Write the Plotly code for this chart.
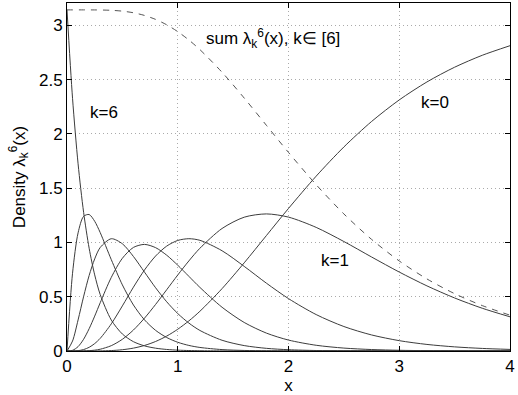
import plotly.graph_objects as go

# x sample positions
x = [0, 0.05, 0.1, 0.15, 0.2, 0.25, 0.3, 0.4, 0.5, 0.6, 0.7, 0.8, 0.9, 1.0,
     1.1, 1.2, 1.4, 1.6, 1.8, 2.0, 2.25, 2.5, 2.75, 3.0, 3.25, 3.5, 3.75, 4.0]

k0 = [0, 0, 0, 0.00002, 0.00011, 0.00037, 0.00095, 0.00403, 0.01166, 0.0265,
      0.05113, 0.0876, 0.1372, 0.20043, 0.27696, 0.36584, 0.57453, 0.8119,
      1.06252, 1.31291, 1.61038, 1.87917, 2.11352, 2.31247, 2.47801, 2.61367,
      2.72356, 2.81178]
k1 = [0, 0, 0.00013, 0.00085, 0.00302, 0.00777, 0.01633, 0.04921, 0.10782,
      0.19343, 0.30264, 0.42887, 0.56401, 0.69986, 0.82914, 0.94609, 1.1283,
      1.23232, 1.26249, 1.23296, 1.13837, 1.00827, 0.86604, 0.72698, 0.59975,
      0.4883, 0.39357, 0.31477]
k2 = [0, 0.00024, 0.00316, 0.01314, 0.03411, 0.06843, 0.1167, 0.25013, 0.41552,
      0.5882, 0.74633, 0.87486, 0.96603, 1.01825, 1.03427, 1.01944, 0.92326,
      0.77935, 0.62503, 0.48246, 0.3353, 0.22541, 0.14786, 0.09523, 0.06048,
      0.03801, 0.0237, 0.01468]
k3 = [0, 0.00627, 0.04011, 0.10828, 0.20538, 0.32122, 0.44477, 0.67812, 0.85402,
      0.95396, 0.98161, 0.95182, 0.88247, 0.79013, 0.68808, 0.58586, 0.40294,
      0.26287, 0.16504, 0.10069, 0.05267, 0.02688, 0.01346, 0.00665, 0.00325,
      0.00158, 0.00076, 0.00037]
k4 = [0, 0.09177, 0.28606, 0.50179, 0.69574, 0.84823, 0.95344, 1.03409, 0.98736,
      0.87026, 0.72622, 0.58248, 0.45345, 0.34489, 0.25749, 0.18938, 0.09891,
      0.04988, 0.02451, 0.01182, 0.00465, 0.0018, 0.00069, 0.00026, 0.0001,
      0.00004, 0.00001, 0]
k5 = [0, 0.71597, 1.08798, 1.24025, 1.25698, 1.19459, 1.0901, 0.84101, 0.6088,
      0.42343, 0.28654, 0.19012, 0.12426, 0.08028, 0.05139, 0.03265, 0.01295,
      0.00505, 0.00194, 0.00074, 0.00022, 0.00006, 0.00002, 0, 0, 0, 0, 0]
k6 = [3.14159, 2.3273, 1.72414, 1.27728, 0.94623, 0.70098, 0.5193, 0.285,
      0.15641, 0.08584, 0.04711, 0.02585, 0.01419, 0.00779, 0.00427, 0.00235,
      0.00071, 0.00021, 0.00006, 0.00002, 0, 0, 0, 0, 0, 0, 0, 0]
sum_k = [3.14159, 3.14159, 3.14159, 3.14157, 3.14148, 3.14122, 3.14064, 3.13756,
         3.12993, 3.11509, 3.09046, 3.05399, 3.00439, 2.94116, 2.86463, 2.77575,
         2.56706, 2.32969, 2.07907, 1.82868, 1.53121, 1.26242, 1.02807, 0.82912,
         0.66358, 0.52792, 0.41803, 0.32981]

curves = [k0, k1, k2, k3, k4, k5, k6]

fig = go.Figure()
for ys in curves:
    fig.add_trace(go.Scatter(x=x, y=ys, mode="lines",
                             line=dict(color="#3c3c3c", width=1, shape="spline", smoothing=0.8),
                             showlegend=False))
fig.add_trace(go.Scatter(x=x, y=sum_k, mode="lines",
                         line=dict(color="#555555", width=1, dash="6px,6px", shape="spline", smoothing=0.8),
                         showlegend=False))

font = dict(family="Liberation Sans, Arial, sans-serif", size=17, color="#000000")

fig.add_annotation(x=1.86, y=2.88, text="sum λ<sub>k</sub><sup>6</sup>(x), k∈ [6]",
                   showarrow=False, font=font)
fig.add_annotation(x=0.334, y=2.2, text="k=6", showarrow=False, font=font)
fig.add_annotation(x=3.32, y=2.29, text="k=0", showarrow=False, font=font)
fig.add_annotation(x=2.42, y=0.836, text="k=1", showarrow=False, font=font)

axis_common = dict(
    showline=True, linecolor="#000000", linewidth=1, mirror="allticks",
    ticks="inside", ticklen=5, tickcolor="#000000",
    showgrid=True, gridcolor="#aaaaaa", griddash="1px,3px", gridwidth=1,
    zeroline=False, tickfont=font, automargin=False, ticklabeloverflow="allow",
)

fig.update_layout(
    width=518, height=395,
    margin=dict(l=67, r=8, t=3, b=44),
    paper_bgcolor="#ffffff", plot_bgcolor="#ffffff",
    font=font,
    xaxis=dict(range=[0, 4], tickvals=[0, 1, 2, 3, 4],
               title=dict(text="x", font=font, standoff=0), **axis_common),
    yaxis=dict(range=[0, 3.205], tickvals=[0, 0.5, 1, 1.5, 2, 2.5, 3],
               ticktext=["0", "0.5", "1", "1.5", "2", "2.5", "3"],
               title=dict(text="Density λ<sub>k</sub><sup>6</sup>(x)", font=font, standoff=9),
               **axis_common),
)

# page body has a default 8px margin; remove it so the figure sits at the corner
fig.write_html("out.html", config={"displayModeBar": False},
               post_script="document.body.style.margin='0';")
